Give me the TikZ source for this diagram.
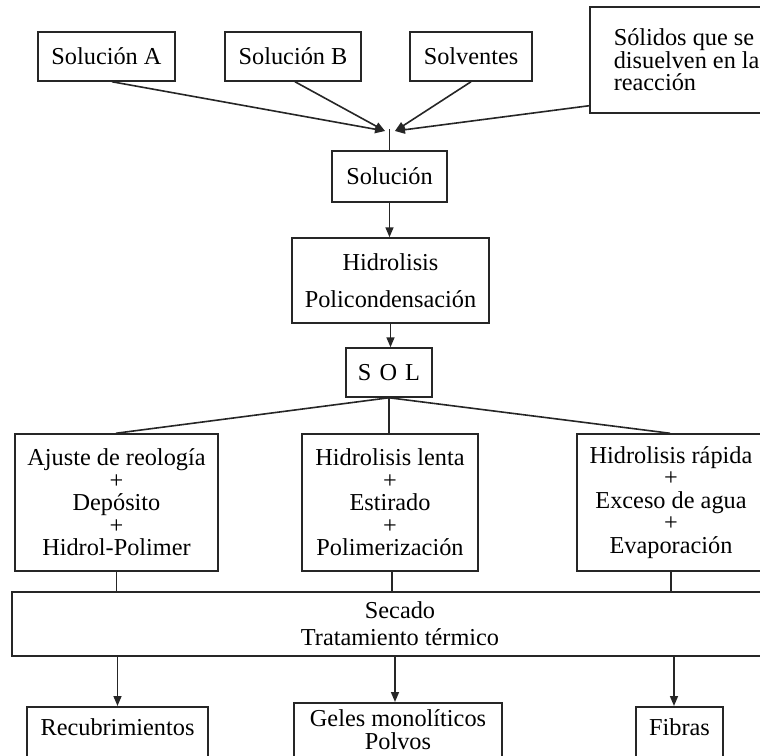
\documentclass[tikz,border=0pt]{standalone}
\usepackage{fontspec}
\setmainfont{Liberation Serif}
\usetikzlibrary{arrows.meta}
\newcommand\bigf{\fontsize{24.3}{22.5}\selectfont}
\begin{document}
\begin{tikzpicture}[x=1pt,y=-1pt,
  box/.style={draw=black!85, line width=1.5pt, inner sep=0pt, align=center, font=\bigf},
  ln/.style={draw=black!85, line width=1.6pt},
  arr/.style={ln, -{Triangle[length=10pt,width=8pt]}}]
\useasboundingbox (0,0) rectangle (760,755);
\clip (0,0) rectangle (760,755);
% top row
\node[box, minimum width=137pt, minimum height=49pt] (solA) at (106.5,56.5) {Solución A};
\node[box, minimum width=136pt, minimum height=49pt] (solB) at (293,56.5) {Solución B};
\node[box, minimum width=122pt, minimum height=49pt] (solv) at (471,56.5) {Solventes};
\node[box, anchor=north west, minimum width=201pt, minimum height=106pt, text width=153pt, align=flush left, inner xsep=24pt] (solid) at (589,6) {Sólidos que se\\disuelven en la\\reacción};
\coordinate (inL) at (385,131);
\coordinate (inR) at (395,131);
\coordinate (conv) at (389.5,129);
% chain
\node[box, minimum width=115pt, minimum height=51pt] (sol) at (389.5,176.5) {Solución};
\node[box, minimum width=197pt, minimum height=85pt] (hid) at (390.5,280.5) {Hidrolisis\\[14.5pt]Policondensación};
\node[box, minimum width=86pt, minimum height=49pt] (SOL) at (389,372.5) {S\,\,O\,\,L};
% three branches
\node[box, minimum width=203pt, minimum height=137pt] (left) at (116.5,502.5) {Ajuste de reología\\+\\Depósito\\+\\Hidrol-Polimer};
\node[box, minimum width=176pt, minimum height=137pt] (mid) at (390,502.5) {Hidrolisis lenta\\+\\Estirado\\+\\Polimerización};
\node[box, minimum width=188pt, minimum height=137pt] (right) at (671,502.5) {Hidrolisis rápida\\+\\Exceso de agua\\+\\Evaporación};
% drying
\node[box, minimum width=776pt, minimum height=64pt] (sec) at (400,624) {Secado\\[4.5pt]Tratamiento térmico};
% products
\node[box, anchor=north, minimum width=181pt, text height=28.5pt, text depth=36pt] (rec) at (117.5,706) {Recubrimientos};
\node[box, anchor=north, minimum width=208pt, text height=23.5pt, text depth=45pt] (gel) at (398,702) {\begin{tabular}[t]{@{}c@{}}Geles monolíticos\\Polvos\end{tabular}};
\node[box, anchor=north, minimum width=87pt, text height=28.5pt, text depth=36pt] (fib) at (679.5,706) {Fibras};
% connectors top
\draw[arr] ([xshift=5.5pt]solA.south) -- (inL);
\draw[arr] ([xshift=2pt]solB.south) -- (inL);
\draw[arr] (solv.south) -- (inR);
\draw[arr] ([yshift=-46pt]solid.west) -- (inR);
\draw[ln] (conv) -- (sol.north);
\draw[arr] (sol.south) -- (sol.south |- hid.north);
\draw[arr] (hid.south) -- (hid.south |- SOL.north);
% fan out
\path (left.north) ++(-0.5,0) coordinate (lt);
\path (right.north) ++(-1,0) coordinate (rt);
\draw[ln] (SOL.south) -- (lt);
\draw[ln] (SOL.south) -- (SOL.south |- mid.north);
\draw[ln] (SOL.south) -- (rt);
% into secado
\path (mid.south) ++(2,0) coordinate (mb);
\draw[ln] (left.south) -- (left.south |- sec.north);
\draw[ln] (mb) -- (mb |- sec.north);
\draw[ln] (right.south) -- (right.south |- sec.north);
% out of secado
\path (gel.north) ++(-3,0) coordinate (gin);
\path (fib.north) ++(-5.5,0) coordinate (fin);
\draw[arr] (sec.south -| rec.north) -- (rec.north);
\draw[arr] (sec.south -| gin) -- (gin);
\draw[arr] (sec.south -| fin) -- (fin);
\end{tikzpicture}
\end{document}
